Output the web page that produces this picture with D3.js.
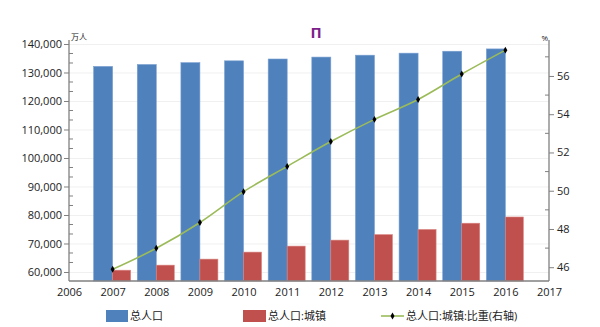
<!DOCTYPE html>
<html><head><meta charset="utf-8">
<script src="https://cdn.jsdelivr.net/npm/d3@7/dist/d3.min.js"></script>
<style>
body{margin:0;background:#fff;}
text{font-family:"Open Sans","Noto Sans CJK SC",sans-serif;}
</style></head>
<body><svg id="c" width="600" height="327"></svg>
<script>
const years = [2007,2008,2009,2010,2011,2012,2013,2014,2015,2016];
const total = [132129,132802,133450,134091,134735,135404,136072,136782,137462,138271];
const urban = [60633,62403,64512,66978,69079,71182,73111,74916,77116,79298];
const ratio = [45.89,46.99,48.34,49.95,51.27,52.57,53.73,54.77,56.10,57.35];
const leftTicks = [60000,70000,80000,90000,100000,110000,120000,130000,140000];
const rightTicks = [46,48,50,52,54,56];
const xTicks = [2006,2007,2008,2009,2010,2011,2012,2013,2014,2015,2016,2017];
const seriesNames = ["总人口","总人口:城镇","总人口:城镇:比重(右轴)"];

const svg = d3.select("#c");
const L = 69, R = 549, T = 40, B = 281;
const x = d3.scaleLinear().domain([2006,2017]).range([L,R]);
const yL = d3.scaleLinear().domain([56840,141400]).range([B,T]);
const yR = d3.scaleLinear().domain([45.28,57.88]).range([B,T]);
const bw = 19;

// gridlines
svg.append("g").selectAll("line").data(leftTicks).join("line")
  .attr("x1",L).attr("x2",R).attr("y1",d=>yL(d)+0.5).attr("y2",d=>yL(d)+0.5)
  .attr("stroke","#f0f0f0").attr("stroke-width",1);

// bars
svg.append("g").selectAll("rect").data(years).join("rect")
  .attr("x",(d)=>x(d)-bw).attr("width",bw)
  .attr("y",(d,i)=>yL(total[i])).attr("height",(d,i)=>B-yL(total[i]))
  .attr("fill","#4f81bd").attr("stroke","#7aa0d0").attr("stroke-width",0.6);
svg.append("g").selectAll("rect").data(years).join("rect")
  .attr("x",(d)=>x(d)).attr("width",bw-1)
  .attr("y",(d,i)=>yL(urban[i])).attr("height",(d,i)=>B-yL(urban[i]))
  .attr("fill","#c0504d").attr("stroke","#d88582").attr("stroke-width",0.6);

// line
const line = d3.line().x((d,i)=>x(years[i])).y(d=>yR(d)).curve(d3.curveMonotoneX);
svg.append("path").datum(ratio).attr("d",line).attr("fill","none")
  .attr("stroke","#9bbb59").attr("stroke-width",1.6);
svg.append("g").selectAll("path").data(ratio).join("path")
  .attr("d",d3.symbol(d3.symbolDiamond,14))
  .attr("transform",(d,i)=>`translate(${x(years[i])},${yR(d)})`)
  .attr("fill","#000");

// left axis
const la = svg.append("g").attr("transform",`translate(${L},0)`)
  .call(d3.axisLeft(yL).tickValues(leftTicks).tickFormat(d3.format(",")).tickSize(5).tickPadding(2));
const minorL = [];
for(let v=56666.67; v<141400; v+=10000/3){ const r=Math.round(v); if(r%10000!==0 && r>56840) minorL.push(v); }
la.selectAll(".mn").data(minorL).join("line").attr("class","mn")
  .attr("x1",0).attr("x2",4).attr("y1",d=>yL(d)).attr("y2",d=>yL(d)).attr("stroke","#808080");

// right axis
const ra = svg.append("g").attr("transform",`translate(${R},0)`)
  .call(d3.axisRight(yR).tickValues(rightTicks).tickSize(5).tickPadding(3));
ra.selectAll(".mn").data([47,49,51,53,55,57]).join("line").attr("class","mn")
  .attr("x1",0).attr("x2",-4).attr("y1",d=>yR(d)).attr("y2",d=>yR(d)).attr("stroke","#808080");

// bottom axis
const ba = svg.append("g").attr("transform",`translate(0,${B})`)
  .call(d3.axisBottom(x).tickValues(xTicks).tickFormat(d3.format("d")).tickSize(0).tickPadding(7));

[la,ra,ba].forEach(a=>{
  a.selectAll(".domain").attr("stroke","#808080").attr("stroke-width",1.3);
  a.selectAll(".tick line").attr("stroke","#808080");
  a.selectAll("text").attr("font-size",11).attr("fill","#222")
    .attr("font-family","'Open Sans',sans-serif");
});
ba.select(".domain").attr("d",`M${L},0H${R}`);
la.select(".domain").attr("d",`M0,${T}V${B}`);
ra.select(".domain").attr("d",`M0,${T}V${B}`);

// unit labels
svg.append("text").attr("x",L+2).attr("y",T).attr("font-size",8).attr("fill","#222").text("万人");
svg.append("text").attr("x",R-1).attr("y",T+1).attr("font-size",8).attr("fill","#222").attr("text-anchor","end").text("%");

// purple glyph
svg.append("text").attr("x",316).attr("y",38).attr("text-anchor","middle")
  .attr("font-size",15).attr("font-weight","bold").attr("fill","#7b1f8a").text("П");

// legend
const lg = svg.append("g");
lg.append("rect").attr("x",106).attr("y",310).attr("width",22).attr("height",12).attr("fill","#4f81bd");
lg.append("text").attr("x",130).attr("y",320).attr("font-size",11).attr("fill","#222").text(seriesNames[0]);
lg.append("rect").attr("x",243).attr("y",310).attr("width",23).attr("height",12).attr("fill","#c0504d");
lg.append("text").attr("x",268).attr("y",320).attr("font-size",11).attr("fill","#222").text(seriesNames[1]);
lg.append("line").attr("x1",381).attr("x2",404).attr("y1",316).attr("y2",316).attr("stroke","#9bbb59").attr("stroke-width",1.6);
lg.append("path").attr("d",d3.symbol(d3.symbolDiamond,14)).attr("transform","translate(392.5,316)").attr("fill","#000");
lg.append("text").attr("x",406).attr("y",320).attr("font-size",11).attr("fill","#222").text(seriesNames[2]);
</script></body></html>
